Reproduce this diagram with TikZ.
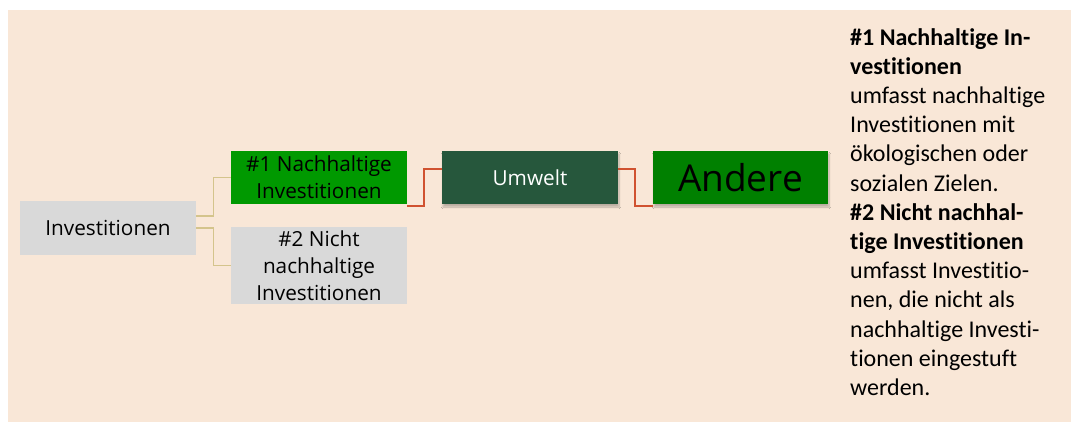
\documentclass[tikz,border=0pt]{standalone}
\usepackage{fontspec}
\setmainfont{Carlito}[Ligatures=NoCommon]
\newfontfamily\boxfont{Open Sans}
\usetikzlibrary{shadows.blur}
\definecolor{bg}{RGB}{249,231,215}
\definecolor{boxgray}{RGB}{217,217,217}
\definecolor{greenA}{RGB}{0,153,0}
\definecolor{umweltgreen}{RGB}{38,87,60}
\definecolor{anderegreen}{RGB}{0,128,0}
\definecolor{tanline}{RGB}{212,196,140}
\definecolor{redline}{RGB}{208,82,48}
\tikzset{
  box/.style={rectangle, inner sep=0pt, align=center, font=\boxfont\fontsize{20.75}{27}\selectfont},
  shadowed/.style={blur shadow={shadow xshift=1pt, shadow yshift=-3pt, shadow blur steps=6, shadow opacity=25}},
  tanconn/.style={draw=tanline, line width=1.3pt},
  redconn/.style={draw=redline, line width=1.5pt},
  sidetext/.style={anchor=north west, inner sep=0pt, align=left, font=\fontsize{24}{29.2}\selectfont}
}
\begin{document}
\begin{tikzpicture}[x=1pt,y=-1pt]
\useasboundingbox (0,0) rectangle (1071,422);
\fill[bg] (8,10) rectangle (1071,422);
% nodes
\node[box, fill=boxgray, minimum width=176pt, minimum height=54pt] (inv) at (108,228) {Investitionen};
\node[box, fill=greenA, minimum width=176pt, minimum height=53pt] (n1) at (319,177.5) {\#1 Nachhaltige\\Investitionen};
\node[box, fill=boxgray, minimum width=176pt, minimum height=77pt] (n2) at (319,265.5) {\#2 Nicht\\nachhaltige\\Investitionen};
% connectors
\draw[tanconn] ([yshift=12pt]inv.east) -- ++(17,0) |- (n1.west);
\draw[tanconn] (inv.east) -- ++(17,0) |- (n2.west);
\node[box, fill=umweltgreen, text=white, minimum width=176pt, minimum height=53pt, shadowed] (umw) at (530,177.5) {Umwelt};
\node[box, fill=anderegreen, minimum width=175pt, minimum height=53pt, shadowed, font=\boxfont\fontsize{37}{44}\selectfont] (and) at (740.5,177.5) {Andere};
\draw[redconn] ([yshift=-2pt]n1.south east) -- ++(17,0) |- ([yshift=8.5pt]umw.west);
\draw[redconn] ([yshift=8.5pt]umw.east) -- ++(17,0) |- ([yshift=-2pt]and.south west);
% side text
\node[sidetext] (desc) at (850,28) {\textbf{\#1 Nachhaltige In-}\\
\textbf{vestitionen}\\
umfasst nachhaltige\\
Investitionen mit\\
ökologischen oder\\
sozialen Zielen.\\
\textbf{\#2 Nicht nachhal-}\\
\textbf{tige Investitionen}\\
umfasst Investitio-\\
nen, die nicht als\\
nachhaltige Investi-\\
tionen eingestuft\\
werden.};
\end{tikzpicture}
\end{document}
